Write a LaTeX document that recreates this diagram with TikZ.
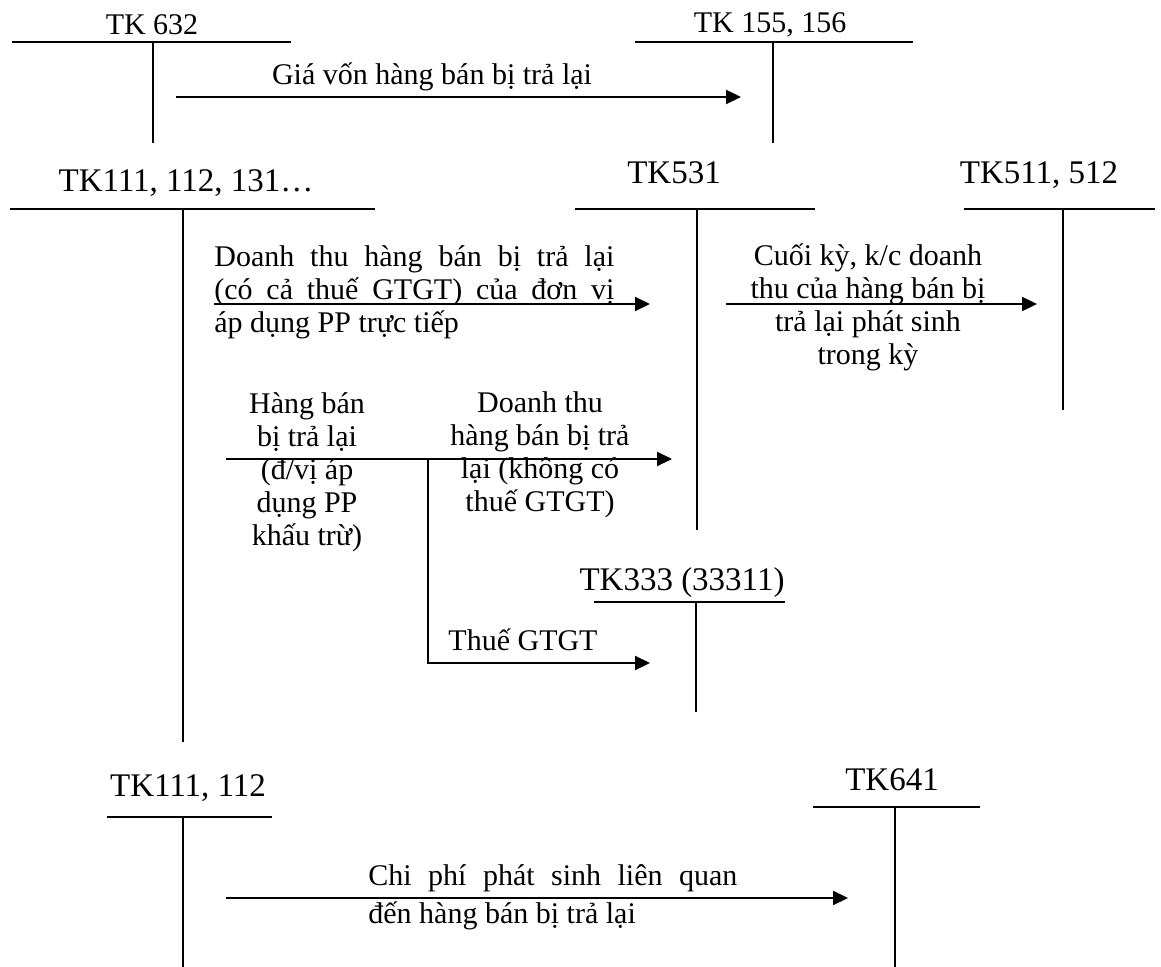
\documentclass[tikz,border=0pt]{standalone}
\usepackage{fontspec}
\setmainfont{Liberation Serif}
\usetikzlibrary{arrows.meta}

\begin{document}
\begin{tikzpicture}[
      x=0.5pt, y=-0.5pt,
      acct/.style={inner sep=0, font=\fontsize{16.5}{18}\selectfont},
      acctsm/.style={inner sep=0, font=\fontsize{15}{17}\selectfont},
      note/.style={inner sep=0, align=center, font=\fontsize{15}{16.5}\selectfont},
      bar/.style={line width=1.1pt},
      arrow/.style={-{Triangle[length=7.5pt,width=7pt]}, line width=1.1pt}
    ]
      \useasboundingbox (0,0) rectangle (1161,967);

      % T accounts
      \node[acctsm] (a632) at (152,25) {TK 632};
      \draw[bar] (12,42) -- (291,42) (153,42) -- (153,143);
      \node[acctsm] (a155) at (770,25) {TK 155, 156};
      \draw[bar] (635,42) -- (913,42) (773,42) -- (773,143);
      \node[acct] (a111) at (186,183) {TK111, 112, 131…};
      \draw[bar] (10,209) -- (375,209) (183,209) -- (183,742);
      \node[acct] (a531) at (674,173) {TK531};
      \draw[bar] (575,209) -- (815,209) (697,209) -- (697,530);
      \node[acct] (a511) at (1039,175) {TK511, 512};
      \draw[bar] (964,209) -- (1155,209) (1063,209) -- (1063,410);
      \node[acct] (a333) at (682,583) {TK333 (33311)};
      \draw[bar] (594,602) -- (785,602) (696,602) -- (696,712);
      \node[acct] (a111b) at (188,788) {TK111, 112};
      \draw[bar] (107,817) -- (272,817) (183,817) -- (183,967);
      \node[acct] (a641) at (892,780) {TK641};
      \draw[bar] (813,807) -- (980,807) (895,807) -- (895,967);

      % arrow ends
      \coordinate (gv1) at (176,97);
      \coordinate (gv2) at (741,97);
      \coordinate (dt1) at (214,304);
      \coordinate (dt2) at (650,304);
      \coordinate (kc1) at (726,304);
      \coordinate (kc2) at (1037,304);
      \coordinate (hb1) at (226,459);
      \coordinate (hb2) at (672,459);
      \coordinate (tax0) at (428,459);
      \coordinate (tax2) at (650,663);
      \coordinate (cp1) at (226,898);
      \coordinate (cp2) at (848,898);

      \draw[arrow] (gv1) -- (gv2);
      \draw[arrow] (dt1) -- (dt2);
      \draw[arrow] (kc1) -- (kc2);
      \draw[arrow] (hb1) -- (hb2);
      \draw[arrow] (tax0) |- (tax2);
      \draw[arrow] (cp1) -- (cp2);

      % labels
      \node[note] (gvtxt) at (432,77) {Giá vốn hàng bán bị trả lại};
      \node[note, align=left, anchor=west] (dttxt) at (214,292)
        {\makebox[200pt][s]{Doanh thu hàng bán bị trả lại}\\
         \makebox[200pt][s]{(có cả thuế GTGT) của đơn vị}\\
         áp dụng PP trực tiếp};
      \node[note] (kctxt) at (868,307) {Cuối kỳ, k/c doanh\\thu của hàng bán bị\\trả lại phát sinh\\trong kỳ};
      \node[note] (hbtxt) at (307,472) {Hàng bán\\bị trả lại\\(đ/vị áp\\dụng PP\\khấu trừ)};
      \node[note] (dt2txt) at (540,455) {Doanh thu\\hàng bán bị trả\\lại (không có\\thuế GTGT)};
      \node[note] (taxtxt) at (523,640) {Thuế GTGT};
      \node[note, align=left, anchor=west, font=\fontsize{15}{19}\selectfont] (cptxt) at (368,897)
        {\makebox[184.5pt][s]{Chi phí phát sinh liên quan}\\đến hàng bán bị trả lại};
    \end{tikzpicture}
\end{document}
